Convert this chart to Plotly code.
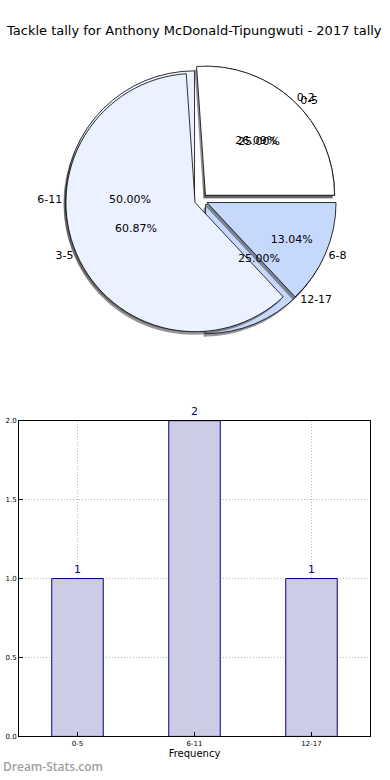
import plotly.graph_objects as go

title_text = "Tackle tally for Anthony McDonald-Tipungwuti - 2017 tally"

# Pie 1: tackle ranges (games)
pie1_labels = ["0-5", "6-11", "12-17"]
pie1_values = [1, 2, 1]
# Pie 2: finer ranges
pie2_labels = ["0-2", "3-5", "6-8"]
pie2_values = [6, 14, 3]

pie_colors = ["#ffffff", "#ebf1fe", "#c6d9fd"]

# Bar chart
bar_categories = ["0-5", "6-11", "12-17"]
bar_values = [1, 2, 1]
y_ticks = [0.0, 0.5, 1.0, 1.5, 2.0]

FONT = "DejaVu Sans"

fig = go.Figure()

cx, cy, half = 201, 198, 137
W, H = 390, 780


def dom(dx=0, dy=0):
    return dict(
        x=[(cx + dx - half) / W, (cx + dx + half) / W],
        y=[(H - (cy + dy) - half) / H, (H - (cy + dy) + half) / H],
    )


pull = 0.05
pies = [(pie1_labels, pie1_values), (pie2_labels, pie2_values)]


def common(labels, values):
    # plotly (counterclockwise) ends the first slice at `rotation`; make it start at 3 o'clock
    rot = 90 - values[0] / sum(values) * 360
    return dict(labels=labels, values=values, sort=False, direction="counterclockwise",
                rotation=rot, pull=[pull] * len(values), showlegend=False)


# wedges (with shadows)
for labels, values in pies:
    fig.add_trace(go.Pie(
        **common(labels, values), domain=dom(-2, 3),
        marker=dict(colors=["rgba(60,60,60,0.55)"] * len(values), line=dict(width=0)),
        textinfo="none", hoverinfo="skip",
    ))
    fig.add_trace(go.Pie(
        **common(labels, values), domain=dom(),
        marker=dict(colors=pie_colors, line=dict(color="#000000", width=0.8)),
        textinfo="none",
    ))

# texts drawn on top of all wedges
for labels, values in pies:
    fig.add_trace(go.Pie(
        **common(labels, values), domain=dom(),
        marker=dict(colors=["rgba(0,0,0,0)"] * len(values), line=dict(width=0)),
        texttemplate="%{percent:.2%}", textposition="inside",
        insidetextorientation="horizontal",
        textfont=dict(family=FONT, size=11, color="#000000"),
        hoverinfo="skip",
    ))
    fig.add_trace(go.Pie(
        **common(labels, values), domain=dom(),
        marker=dict(colors=["rgba(0,0,0,0)"] * len(values), line=dict(width=0)),
        texttemplate="%{label}", textposition="outside",
        outsidetextfont=dict(family=FONT, size=11, color="#000000"),
        hoverinfo="skip",
    ))

fig.add_trace(go.Bar(
    x=bar_categories, y=bar_values, width=0.44,
    marker=dict(color="#cccce6", line=dict(color="#000080", width=1)),
    text=[str(v) for v in bar_values], textposition="outside",
    textfont=dict(family=FONT, size=11, color="#000080"),
    cliponaxis=False, xaxis="x", yaxis="y", showlegend=False,
))

grid = dict(showgrid=True, gridcolor="#b8b8b8", griddash="1px,2px", gridwidth=1,
            showline=True, linecolor="#000000", linewidth=1, mirror=True,
            ticks="inside", ticklen=4, tickcolor="#000000",
            tickfont=dict(family=FONT, size=7), zeroline=False, fixedrange=True)

fig.update_layout(
    width=W, height=H,
    margin=dict(l=0, r=0, t=0, b=0),
    paper_bgcolor="#ffffff", plot_bgcolor="#ffffff",
    font=dict(family=FONT, color="#000000"),
    uniformtext=dict(minsize=11, mode="show"),
    title=dict(text=title_text, x=7 / W, xanchor="left", xref="paper",
               y=1 - 30 / H, yanchor="middle",
               font=dict(family=FONT, size=13, color="#000000")),
    xaxis=dict(
        domain=[19 / W, 370 / W], range=[-0.5, 2.5],
        title=dict(text="Frequency", font=dict(family=FONT, size=10), standoff=2),
        anchor="y", **grid,
    ),
    yaxis=dict(
        domain=[40 / H, 359 / H], range=[0, 2], tickvals=y_ticks, tickformat=".1f",
        anchor="x", **grid,
    ),
    annotations=[dict(
        text="Dream-Stats.com", x=1 / W, y=10 / H, xref="paper", yref="paper",
        xanchor="left", yanchor="middle", showarrow=False,
        font=dict(family="Open Sans", size=12, color="#a0a0a0", weight=600),
    )],
)

fig.write_html(
    "out.html",
    config={"displayModeBar": False},
    post_script="document.body.style.margin='0';document.body.style.overflow='hidden';",
)
